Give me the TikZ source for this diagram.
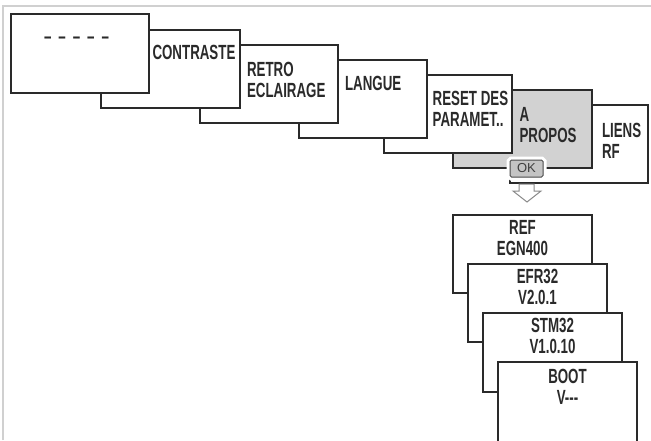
\documentclass[tikz,border=0pt]{standalone}
\usepackage{fontspec}
\setmainfont{Liberation Sans}[FakeStretch=0.65,UprightFont=*-Bold,BoldFont=*-Bold]
\newfontfamily\okfont{Liberation Sans}
\newcommand\twoL[2]{\vtop{\baselineskip=20.5pt\lineskiplimit=-30pt\halign{##\hfil\cr#1\cr#2\cr}}}
\newcommand\twoC[2]{\vtop{\baselineskip=21pt\lineskiplimit=-30pt\halign{\hfil##\hfil\cr#1\cr#2\cr}}}
\definecolor{ink}{HTML}{2A2A2A}
\definecolor{scrgray}{HTML}{D2D2D2}
\definecolor{okgray}{HTML}{C4C4C4}
\definecolor{framegray}{HTML}{D0D0D0}
\begin{document}
\begin{tikzpicture}[x=1pt,y=-1pt,
  scr/.style={draw=ink, line width=1.2pt, fill=white, rectangle, inner sep=0pt, outer sep=0pt, anchor=north west},
  lbl/.style={inner sep=0pt, outer sep=0pt, font=\fontsize{20.5}{20.5}\selectfont, text=ink},
  okbtn/.style={draw=ink!85, fill=okgray, line width=1pt, rounded corners=1.5pt,
     minimum width=33pt, minimum height=17pt, inner sep=0pt, font=\okfont\fontsize{13}{13}\selectfont, text=ink!90,
     preaction={draw=white, line width=7pt}},
]
\clip (0,0) rectangle (651,440);
\fill[white] (0,0) rectangle (651,440);
\draw[framegray, line width=1.5pt] (3,440) -- (3,6) -- (651,6);

% top menu row, drawn back to front
\node[scr, minimum width=138pt, minimum height=78pt] (b7) at (510,105) {};
\node[lbl, anchor=base west] (t7) at (602,137.5) {\twoL{LIENS}{RF}};
\node[scr, fill=scrgray, minimum width=139pt, minimum height=78pt] (b6) at (453,90) {};
\node[lbl, anchor=base west] (t6) at (519.5,121.5) {\twoL{A}{PROPOS}};
\node[scr, minimum width=128pt, minimum height=78pt] (b5) at (384,75) {};
\node[lbl, anchor=base west] (t5) at (432.7,105.5) {\twoL{RESET DES}{PARAMET..}};
\node[scr, minimum width=128pt, minimum height=78pt] (b4) at (299,60) {};
\node[lbl, anchor=base west] (t4) at (345,90.5) {LANGUE};
\node[scr, minimum width=138pt, minimum height=78pt] (b3) at (200,45) {};
\node[lbl, anchor=base west] (t3) at (247,76.5) {\twoL{RETRO}{ECLAIRAGE}};
\node[scr, minimum width=139pt, minimum height=78pt] (b2) at (101,30) {};
\node[lbl, anchor=base west] (t2) at (152.5,59.3) {CONTRASTE};
\node[scr, minimum width=138pt, minimum height=79pt] (b1) at (11,14) {};
\node[lbl, anchor=base west] (t1) at (44,43.5) {\textendash\hspace{7pt}\textendash\hspace{7pt}\textendash\hspace{7pt}\textendash\hspace{7pt}\textendash};

% OK button and arrow
\node[okbtn] (ok) at (526.5,168.5) {OK};
\draw[ink!55, fill=white, line width=1pt, line join=miter]
  (519,184) -- (534,184) -- (534,191) -- (541,191) -- (527,202) -- (513,191) -- (519,191) -- cycle;

% sub-menu stack, drawn back to front
\node[scr, minimum width=139pt, minimum height=78pt] (s1) at (453,215) {};
\node[lbl, anchor=base] (u1) at (522.5,234.5) {\twoC{REF}{EGN400}};
\node[scr, minimum width=139pt, minimum height=78pt] (s2) at (468,264) {};
\node[lbl, anchor=base] (u2) at (537.5,283.5) {\twoC{EFR32}{V2.0.1}};
\node[scr, minimum width=139pt, minimum height=79pt] (s3) at (483,313) {};
\node[lbl, anchor=base] (u3) at (552.5,332) {\twoC{STM32}{V1.0.10}};
\node[scr, minimum width=139pt, minimum height=100pt] (s4) at (498,362) {};
\node[lbl, anchor=base] (u4) at (567.5,383) {\twoC{BOOT}{V{-}{-}{-}}};
\end{tikzpicture}
\end{document}
